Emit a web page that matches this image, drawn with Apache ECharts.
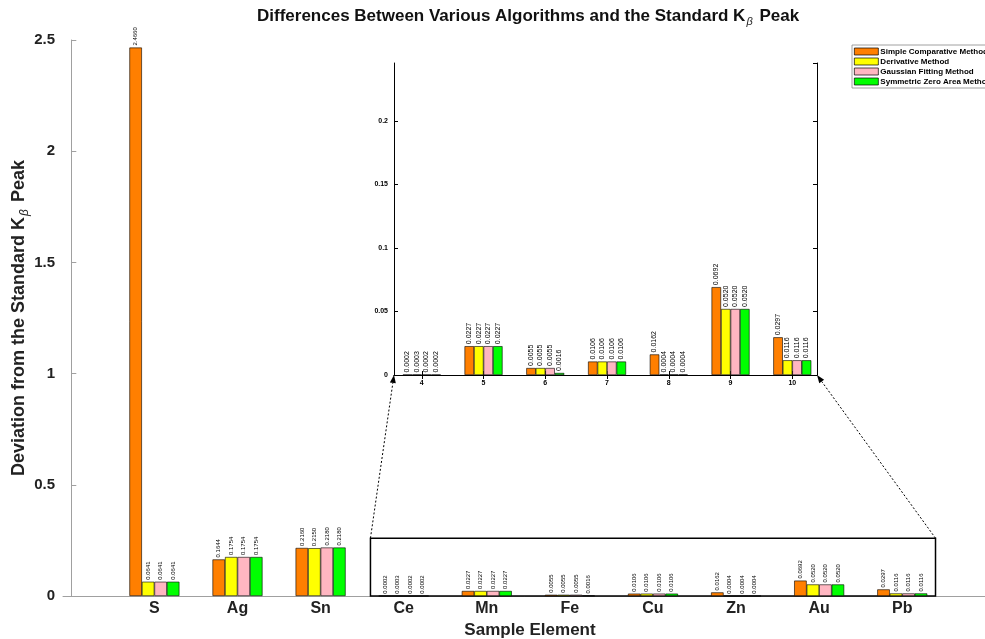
<!DOCTYPE html>
<html><head><meta charset="utf-8">
<script src="https://cdn.jsdelivr.net/npm/echarts@6/dist/echarts.min.js"></script>
<style>html,body{margin:0;background:#fff}#c{width:985px;height:639px}</style>
</head><body><div id="c"></div>
<script>
const categories = ['S','Ag','Sn','Ce','Mn','Fe','Cu','Zn','Au','Pb'];
const methods = ['Simple Comparative Method','Derivative Method','Gaussian Fitting Method','Symmetric Zero Area Method'];
const simpleComparative = [2.4660,0.1644,0.2160,0.0002,0.0227,0.0055,0.0106,0.0162,0.0692,0.0297];
const derivative        = [0.0641,0.1754,0.2150,0.0003,0.0227,0.0055,0.0106,0.0004,0.0520,0.0116];
const gaussianFitting   = [0.0641,0.1754,0.2180,0.0002,0.0227,0.0055,0.0106,0.0004,0.0520,0.0116];
const symmetricZeroArea = [0.0641,0.1754,0.2180,0.0002,0.0227,0.0016,0.0106,0.0004,0.0520,0.0116];
const insetLabels = ['4','5','6','7','8','9','10'];
const insetStart = 3; // first category index shown in the zoomed inset (Ce -> 4)

const colors = ['#FF7F00','#FFFF00','#FFB6C1','#00FF00'];
const seriesValues = [simpleComparative, derivative, gaussianFitting, symmetricZeroArea];
const zoomX = [3.6, 10.4], zoomTop = 0.26;
const insetX = [3.55, 10.4], insetTop = 0.2457;

const chart = echarts.init(document.getElementById('c'));
const positions = categories.map((c,i)=>i+1);
const insetPositions = insetLabels.map(Number);

const mainSeries = seriesValues.map((vals,k)=>({
  name: methods[k], type:'bar', xAxisIndex:0, yAxisIndex:0,
  barWidth: 12.5, barGap:'0%',
  data: vals.map((v,i)=>[positions[i], v]),
  itemStyle:{color:colors[k], borderColor:'#000', borderWidth:0.6},
  label:{show:true, position:'top', rotate:90, align:'left', verticalAlign:'middle', distance:2,
    fontSize:6, color:'#000', fontFamily:'Liberation Sans', formatter:p=>p.value[1].toFixed(4)},
  markArea: k===0 ? {silent:true, itemStyle:{color:'rgba(0,0,0,0)', borderColor:'#000', borderWidth:1.5},
    data:[[{coord:[zoomX[0],0]},{coord:[zoomX[1],zoomTop]}]]} : undefined
}));
const insetSeries = seriesValues.map((vals,k)=>({
  name: methods[k], type:'bar', xAxisIndex:1, yAxisIndex:1,
  barWidth: 9.5, barGap:'0%',
  data: vals.slice(insetStart).map((v,j)=>[insetPositions[j], v]),
  itemStyle:{color:colors[k], borderColor:'#000', borderWidth:0.6},
  label:{show:true, position:'top', rotate:90, align:'left', verticalAlign:'middle', distance:2,
    fontSize:7, color:'#000', fontFamily:'Liberation Sans', formatter:p=>p.value[1].toFixed(4)}
}));

const font = 'Liberation Sans';
const grayLine = {show:true, lineStyle:{color:'#a0a0a0', width:1}};
const blackLine = {show:true, lineStyle:{color:'#000', width:1}};

chart.setOption({
  animation:false,
  backgroundColor:'#fff',
  textStyle:{fontFamily:font},
  legend:{
    orient:'vertical', left:852, top:45, itemWidth:24, itemHeight:7, itemGap:1, icon:'rect',
    itemStyle:{borderColor:'#000', borderWidth:0.7},
    padding:[2,3,2,2], borderColor:'#888', borderWidth:0.8, backgroundColor:'#fff',
    data: methods,
    textStyle:{fontSize:8, fontWeight:'bold', color:'#000', lineHeight:9, padding:[0,0,0,-3]}
  },
  grid:[
    {left:63, top:40, width:934, height:556, outerBoundsMode:'none', containLabel:false},
    {left:394, top:63, width:423, height:312, show:true, backgroundColor:'#fff', borderWidth:0, outerBoundsMode:'none', containLabel:false}
  ],
  xAxis:[
    {gridIndex:0, type:'value', min:-0.1, max:11.14, axisLine:grayLine, axisTick:{show:false}, splitLine:{show:false},
     axisLabel:{customValues:positions, formatter:v=>categories[Math.round(v)-1], fontSize:16, fontWeight:'bold', color:'#222', margin:5},
     name:'Sample Element', nameLocation:'middle', nameGap:25,
     nameTextStyle:{fontSize:17, fontWeight:'bold', color:'#222'}},
    {gridIndex:1, type:'value', min:insetX[0], max:insetX[1], axisLine:blackLine, splitLine:{show:false},
     axisTick:{customValues:insetPositions, inside:true, length:4, lineStyle:{color:'#000'}},
     axisLabel:{customValues:insetPositions, formatter:v=>insetLabels[insetPositions.indexOf(Math.round(v))], fontSize:7, fontWeight:'bold', color:'#000', margin:5}},
    {gridIndex:1, type:'value', position:'top', min:insetX[0], max:insetX[1], axisLine:blackLine, splitLine:{show:false},
     axisTick:{customValues:insetPositions, inside:true, length:4, lineStyle:{color:'#000'}},
     axisLabel:{show:false}}
  ],
  yAxis:[
    {gridIndex:0, type:'value', min:0, max:2.5, interval:0.5, axisLine:grayLine, splitLine:{show:false},
     axisTick:{show:true, inside:true, length:5, lineStyle:{color:'#a0a0a0'}},
     axisLabel:{fontSize:15, fontWeight:'bold', color:'#222', margin:8},
     name:'Deviation from the Standard K{b|β} Peak', nameLocation:'middle', nameGap:32, nameMoveOverlap:false,
     nameTextStyle:{fontSize:18, fontWeight:'bold', color:'#222',
       rich:{b:{fontSize:12, fontStyle:'italic', fontWeight:'normal', color:'#222', padding:[11,2,0,1]}}}},
    {gridIndex:1, type:'value', min:0, max:insetTop, interval:0.05, axisLine:blackLine, splitLine:{show:false},
     axisTick:{show:true, inside:true, length:4, lineStyle:{color:'#000'}},
     axisLabel:{fontSize:7, fontWeight:'bold', color:'#000', margin:6, showMaxLabel:false, formatter:v=>String(parseFloat(v.toFixed(2)))}},
    {gridIndex:1, type:'value', position:'right', min:0, max:insetTop, interval:0.05, axisLine:blackLine, splitLine:{show:false},
     axisTick:{show:true, inside:true, length:4, lineStyle:{color:'#000'}}, axisLabel:{show:false}}
  ],
  series: mainSeries.concat(insetSeries)
});

function arrow(p, q){
  const dx=q[0]-p[0], dy=q[1]-p[1], L=Math.hypot(dx,dy), ux=dx/L, uy=dy/L;
  const len=8, w=3;
  const bx=q[0]-ux*len, by=q[1]-uy*len;
  return [
    {type:'line', shape:{x1:p[0],y1:p[1],x2:bx,y2:by}, style:{stroke:'#000', lineWidth:1, lineDash:[2,2]}, z:10},
    {type:'polygon', shape:{points:[[q[0],q[1]],[bx-uy*w,by+ux*w],[bx+uy*w,by-ux*w]]}, style:{fill:'#000'}, z:10}
  ];
}
const a1 = chart.convertToPixel({xAxisIndex:0,yAxisIndex:0},[zoomX[0],zoomTop]);
const a2 = chart.convertToPixel({xAxisIndex:0,yAxisIndex:0},[zoomX[1],zoomTop]);
const b1 = chart.convertToPixel({xAxisIndex:1,yAxisIndex:1},[insetX[0],0]);
const b2 = chart.convertToPixel({xAxisIndex:1,yAxisIndex:1},[insetX[1],0]);

chart.setOption({
  graphic:[
    {type:'text', left:257, top:8, z:20,
     style:{text:'Differences Between Various Algorithms and the Standard K{b|β} Peak',
       font:'bold 17px "Liberation Sans Narrow", "Liberation Sans"', fill:'#111',
       rich:{b:{fontSize:11, fontStyle:'italic', fontWeight:'normal', fill:'#222', padding:[11,2,0,1]}}}}
  ].concat(arrow(a1,b1), arrow(a2,b2))
});
</script></body></html>
